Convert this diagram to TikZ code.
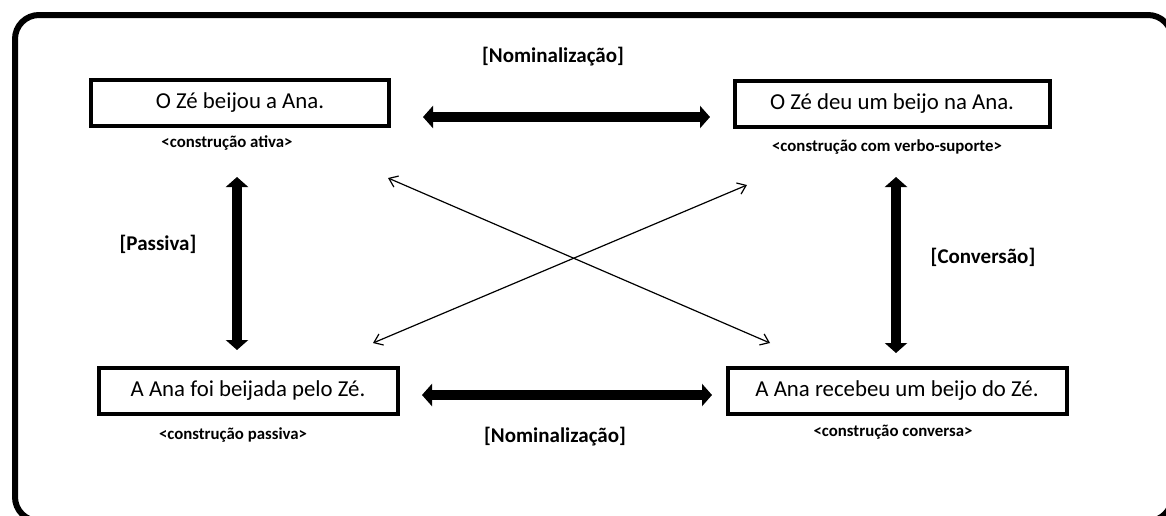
\documentclass[tikz,border=0pt]{standalone}
\usepackage{fontspec}
\setmainfont{Carlito}
\usetikzlibrary{arrows.meta}
\tikzset{
  frase/.style={draw,line width=2pt,minimum height=23pt,inner sep=0pt,font=\fontsize{11.4}{13}\selectfont},
  rotulo/.style={font=\fontsize{8.4}{10}\selectfont\bfseries},
  operacao/.style={font=\fontsize{10.5}{12}\selectfont\bfseries},
  grossa/.style={line width=5pt,{Triangle[length=5pt,width=11pt]}-{Triangle[length=5pt,width=11pt]}},
  fina/.style={line width=0.6pt,{Straight Barb[length=4pt,width=6pt]}-{Straight Barb[length=4pt,width=6pt]}}
}
\begin{document}
\begin{tikzpicture}[x=0.5pt,y=-0.5pt]
\useasboundingbox (0,0) rectangle (1166,515);
\clip (0,0) rectangle (1166,515);
\draw[line width=3pt,rounded corners=12pt] (15,15) rectangle (1172,521);
\node[frase,minimum width=149pt] (ativa) at (240,103) {O Zé beijou a Ana.};
\node[frase,minimum width=157.5pt] (suporte) at (892,104) {O Zé deu um beijo na Ana.};
\node[frase,minimum width=149.5pt] (passiva) at (248,391) {A Ana foi beijada pelo Zé.};
\node[frase,minimum width=169.5pt] (conversa) at (897,391) {A Ana recebeu um beijo do Zé.};
\node[rotulo] (rativa) at (227,143) {<construção ativa>};
\node[rotulo] (rsuporte) at (887,147) {<construção com verbo-suporte>};
\node[rotulo] (rpassiva) at (233,435) {<construção passiva>};
\node[rotulo] (rconversa) at (893,432) {<construção conversa>};
\node[operacao] (nomcima) at (553,57) {[Nominalização]};
\node[operacao] (nombaixo) at (555,437) {[Nominalização]};
\node[operacao] (pass) at (158,244) {[Passiva]};
\node[operacao] (conv) at (983,257) {[Conversão]};
\coordinate (a1) at (423,117);
\coordinate (a2) at (710,117);
\coordinate (b1) at (422,395);
\coordinate (b2) at (712,395);
\coordinate (c1) at (237,177);
\coordinate (c2) at (237,350);
\coordinate (d1) at (896,177);
\coordinate (d2) at (896,353);
\coordinate (e1) at (388,178);
\coordinate (e2) at (770,343);
\coordinate (f1) at (373,343);
\coordinate (f2) at (747,185);
\draw[grossa] (a1) -- (a2);
\draw[grossa] (b1) -- (b2);
\draw[grossa] (c1) -- (c2);
\draw[grossa] (d1) -- (d2);
\draw[fina] (e1) -- (e2);
\draw[fina] (f1) -- (f2);
\end{tikzpicture}
\end{document}
